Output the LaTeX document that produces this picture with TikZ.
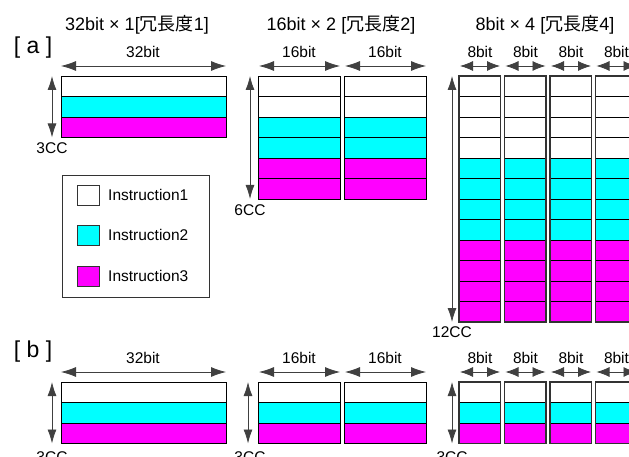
\documentclass[tikz,border=0pt]{standalone}
\usepackage{fontspec}
\setmainfont{Liberation Sans}
\newfontfamily\jpfont{Noto Sans CJK JP}
\usetikzlibrary{arrows.meta}
\definecolor{cyanfill}{HTML}{00FFFF}
\definecolor{magfill}{HTML}{FF00FF}
\begin{document}
\begin{tikzpicture}[x=1pt,y=-1pt,
  cell/.style={draw=black,line width=0.9pt,minimum height=20.5pt,inner sep=0pt,outer sep=0pt,anchor=north west},
  wcell/.style={cell,fill=white},
  ccell/.style={cell,fill=cyanfill},
  mcell/.style={cell,fill=magfill},
  dim/.style={draw=black!75,line width=0.8pt,{Latex[length=14pt,width=9pt]}-{Latex[length=14pt,width=9pt]}},
  hdim/.style={draw=black!75,line width=0.8pt,{Latex[length=15pt,width=10pt]}-{Latex[length=15pt,width=10pt]}},
  sdim/.style={draw=black!75,line width=0.8pt,{Latex[length=13pt,width=10pt]}-{Latex[length=13pt,width=10pt]}},
  lbl/.style={font=\fontsize{15.5}{17}\selectfont,inner sep=0pt},
  ttl/.style={font=\fontsize{18}{20}\selectfont,inner sep=0pt},
  sec/.style={font=\fontsize{23}{25}\selectfont,inner sep=0pt},
  legbox/.style={draw=black!80,line width=0.9pt,minimum width=22pt,minimum height=20pt,inner sep=0pt},
  legtxt/.style={font=\fontsize{15.5}{17}\selectfont,inner sep=0pt,anchor=west}
]
\clip (0,0) rectangle (629,457);
\fill[white] (0,0) rectangle (629,457);

% ---------- section a ----------
\node[sec] (seca) at (33,48) {[ a ]};
\node[ttl] (t1) at (137,25) {32bit × 1[{\jpfont 冗長度}1]};
\node[ttl] (t2) at (341,25) {16bit × 2 [{\jpfont 冗長度}2]};
\node[ttl] (t3) at (545,25) {8bit × 4 [{\jpfont 冗長度}4]};

% block 1 (32bit)
\foreach \r/\s in {0/wcell,1/ccell,2/mcell}
  \node[\s,minimum width=165pt] (a1r\r) at (61,76+20.5*\r) {};
\node[lbl] (a1l) at (143,52) {32bit};
\coordinate (a1hl) at (61,66); \coordinate (a1hr) at (226,66);
\draw[hdim] (a1hl) -- (a1hr);
\coordinate (a1vt) at (52,76); \coordinate (a1vb) at (52,137.5);
\draw[dim] (a1vt) -- (a1vb);
\node[lbl] (a1cc) at (52,148) {3CC};

% block 2 (16bit x 2)
\foreach \c/\xx in {0/258,1/344}{
  \foreach \r/\s in {0/wcell,1/wcell,2/ccell,3/ccell,4/mcell,5/mcell}
    \node[\s,minimum width=82pt] (a2c\c r\r) at (\xx,76+20.5*\r) {};
  \node[lbl] (a2l\c) at (\xx+41,52) {16bit};
  \coordinate (a2hl\c) at (\xx+1,66); \coordinate (a2hr\c) at (\xx+82,66);
  \draw[hdim] (a2hl\c) -- (a2hr\c);
}
\coordinate (a2vt) at (250,76); \coordinate (a2vb) at (250,199);
\draw[dim] (a2vt) -- (a2vb);
\node[lbl] (a2cc) at (250,210) {6CC};

% block 3 (8bit x 4)
\foreach \c in {0,1,2,3}{
  \pgfmathsetmacro{\xx}{459+45.5*\c}
  \foreach \r/\s in {0/wcell,1/wcell,2/wcell,3/wcell,4/ccell,5/ccell,6/ccell,7/ccell,8/mcell,9/mcell,10/mcell,11/mcell}
    \node[\s,minimum width=41.5pt] (a3c\c r\r) at (\xx,76+20.5*\r) {};
  \draw[black!80,line width=1.3pt] (\xx,76) rectangle (\xx+41.5,322);
  \node[lbl] (a3l\c) at (\xx+21,52) {8bit};
  \coordinate (a3hl\c) at (\xx+1,66); \coordinate (a3hr\c) at (\xx+41,66);
  \draw[sdim] (a3hl\c) -- (a3hr\c);
}
\coordinate (a3vt) at (452,76); \coordinate (a3vb) at (452,322);
\draw[dim] (a3vt) -- (a3vb);
\node[lbl] (a3cc) at (452,332) {12CC};

% legend
\node[draw=black!80,line width=0.9pt,minimum width=147pt,minimum height=122pt,inner sep=0pt,anchor=north west] (leg) at (62,175) {};
\node[legbox,fill=white] (lg1) at (88,195) {};
\node[legbox,fill=cyanfill] (lg2) at (88,235) {};
\node[legbox,fill=magfill] (lg3) at (88,276) {};
\node[legtxt] (lt1) at (108,195) {Instruction1};
\node[legtxt] (lt2) at (108,235) {Instruction2};
\node[legtxt] (lt3) at (108,276) {Instruction3};

% ---------- section b ----------
\node[sec] (secb) at (33,352) {[ b ]};

% block 1
\foreach \r/\s in {0/wcell,1/ccell,2/mcell}
  \node[\s,minimum width=165pt] (b1r\r) at (61,382+20.5*\r) {};
\node[lbl] (b1l) at (143,358) {32bit};
\coordinate (b1hl) at (61,372); \coordinate (b1hr) at (226,372);
\draw[hdim] (b1hl) -- (b1hr);
\coordinate (b1vt) at (52,382); \coordinate (b1vb) at (52,443.5);
\draw[dim] (b1vt) -- (b1vb);
\node[lbl] (b1cc) at (52,457) {3CC};

% block 2
\foreach \c/\xx in {0/258,1/344}{
  \foreach \r/\s in {0/wcell,1/ccell,2/mcell}
    \node[\s,minimum width=82pt] (b2c\c r\r) at (\xx,382+20.5*\r) {};
  \node[lbl] (b2l\c) at (\xx+41,358) {16bit};
  \coordinate (b2hl\c) at (\xx+1,372); \coordinate (b2hr\c) at (\xx+82,372);
  \draw[hdim] (b2hl\c) -- (b2hr\c);
}
\coordinate (b2vt) at (248,382); \coordinate (b2vb) at (248,443.5);
\draw[dim] (b2vt) -- (b2vb);
\node[lbl] (b2cc) at (250,457) {3CC};

% block 3
\foreach \c in {0,1,2,3}{
  \pgfmathsetmacro{\xx}{459+45.5*\c}
  \foreach \r/\s in {0/wcell,1/ccell,2/mcell}
    \node[\s,minimum width=41.5pt] (b3c\c r\r) at (\xx,382+20.5*\r) {};
  \draw[black!80,line width=1.3pt] (\xx,382) rectangle (\xx+41.5,443.5);
  \node[lbl] (b3l\c) at (\xx+21,358) {8bit};
  \coordinate (b3hl\c) at (\xx+1,372); \coordinate (b3hr\c) at (\xx+41,372);
  \draw[sdim] (b3hl\c) -- (b3hr\c);
}
\coordinate (b3vt) at (452,382); \coordinate (b3vb) at (452,443.5);
\draw[dim] (b3vt) -- (b3vb);
\node[lbl] (b3cc) at (452,457) {3CC};
\end{tikzpicture}
\end{document}
